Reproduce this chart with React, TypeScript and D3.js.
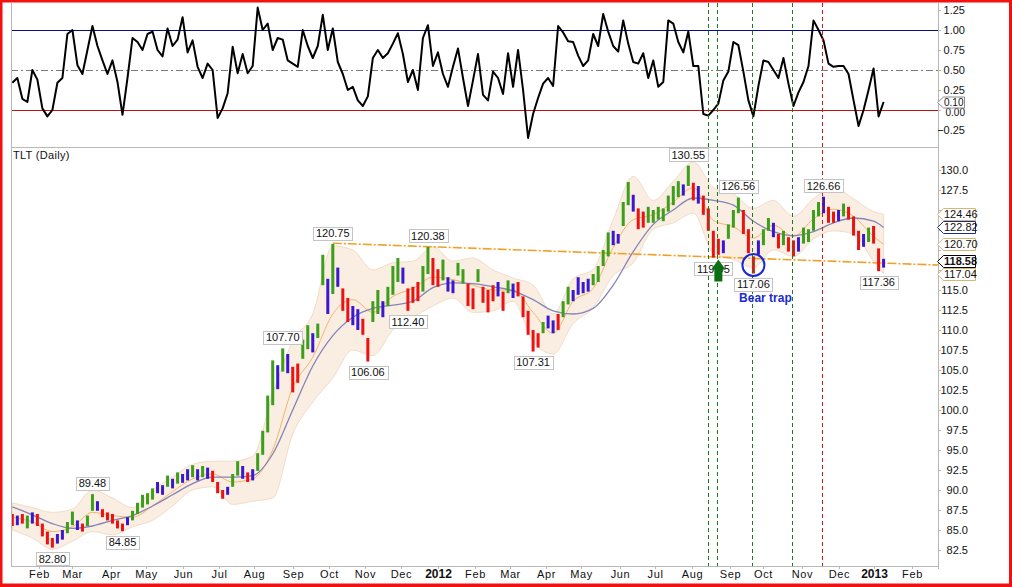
import React, { useEffect, useRef } from 'react';
import * as d3 from 'd3';

// TLT daily bars, read every 3rd session starting 10 Jan 2011
const barHigh = [
  87.0, 86.8, 87.0, 86.8, 87.2, 87.0, 85.8, 84.8, 84.0, 84.5,
  85.0, 86.0, 87.3, 86.2, 85.8, 86.8, 89.48, 88.6, 87.6, 87.2,
  87.0, 86.2, 85.8, 86.6, 87.4, 88.4, 89.4, 89.6, 90.2, 91.0,
  90.6, 91.8, 91.4, 92.2, 92.0, 92.6, 93.1, 92.6, 93.0, 92.8,
  92.4, 91.0, 90.0, 90.4, 92.0, 93.6, 93.0, 92.2, 92.6, 94.6,
  97.4, 101.8, 106.2, 105.6, 107.7, 107.0, 105.4, 105.8, 108.8, 110.6,
  109.6, 110.8, 119.4, 116.4, 120.75, 117.8, 115.2, 114.0, 113.0, 112.6,
  111.4, 109.0, 113.6, 115.0, 113.6, 115.4, 118.0, 119.0, 117.8, 115.2,
  115.4, 116.0, 118.0, 120.38, 119.0, 117.6, 118.8, 116.6, 116.2, 118.4,
  117.6, 115.8, 115.2, 117.6, 115.4, 115.0, 115.6, 116.0, 114.8, 116.2,
  115.8, 116.0, 114.2, 112.4, 110.0, 109.6, 111.0, 111.8, 111.2, 112.0,
  113.6, 115.4, 115.0, 116.6, 116.0, 116.4, 117.0, 118.0, 120.0, 122.2,
  122.4, 122.0, 126.0, 128.5, 126.9, 125.2, 124.8, 125.4, 125.0, 125.4,
  125.2, 126.8, 128.0, 128.6, 128.2, 130.55, 128.4, 128.0, 126.8, 125.2,
  122.4, 121.4, 121.2, 123.2, 125.0, 126.56, 125.0, 122.6, 119.2, 121.2,
  122.6, 124.0, 123.4, 122.0, 122.4, 121.6, 121.2, 121.6, 122.8, 122.6,
  125.0, 126.0, 126.66, 125.4, 124.8, 125.0, 125.8, 125.4, 124.2, 122.4,
  122.0, 122.8, 123.0, 120.2, 118.9,
];
const barLow = [
  85.5, 85.6, 85.8, 85.2, 85.8, 85.5, 84.2, 83.2, 82.8, 83.3,
  83.8, 84.6, 85.6, 85.0, 84.8, 85.5, 87.4, 87.4, 86.6, 86.2,
  85.8, 85.2, 84.85, 85.6, 86.2, 87.0, 87.8, 88.2, 88.8, 89.6,
  89.4, 90.4, 90.2, 90.8, 90.9, 91.2, 91.6, 91.2, 91.6, 91.4,
  91.0, 89.6, 88.9, 89.4, 90.4, 91.8, 91.4, 91.0, 91.2, 92.4,
  94.4, 97.2, 100.6, 102.6, 104.8, 104.6, 102.2, 103.4, 106.4, 107.6,
  107.2, 109.0, 115.6, 112.0, 114.5, 115.4, 112.4, 111.0, 110.6, 110.0,
  109.4, 106.06, 111.0, 112.0, 111.6, 113.0, 114.4, 116.0, 115.8, 112.4,
  113.4, 113.6, 114.8, 117.0, 115.6, 115.4, 116.2, 114.8, 114.6, 116.8,
  115.8, 113.0, 112.6, 116.0, 113.4, 112.2, 113.6, 114.2, 112.4, 114.6,
  114.0, 114.2, 111.6, 109.4, 107.31, 107.8, 109.6, 110.2, 109.6, 110.0,
  111.6, 113.2, 113.6, 114.4, 114.6, 114.8, 115.6, 116.0, 118.0, 119.2,
  120.6, 120.8, 123.0, 125.6, 124.8, 122.6, 122.8, 123.4, 123.4, 123.8,
  123.6, 124.8, 125.6, 126.6, 126.8, 128.0, 126.2, 125.8, 124.4, 122.4,
  119.05, 119.4, 119.6, 121.4, 122.8, 124.6, 122.0, 119.6, 117.06, 119.4,
  120.6, 122.4, 121.6, 120.2, 120.6, 119.8, 119.2, 119.8, 120.8, 121.0,
  122.4, 124.2, 124.6, 123.4, 123.4, 123.6, 124.2, 123.8, 121.8, 120.0,
  120.4, 121.0, 120.8, 117.36, 117.8,
];
// elder impulse colour per bar: g = green, r = red, b = blue
const barImpulse = [
  'r', 'b', 'r', 'g', 'b', 'r', 'r', 'r', 'r', 'b',
  'b', 'g', 'g', 'b', 'r', 'g', 'g', 'b', 'r', 'r',
  'r', 'r', 'r', 'b', 'g', 'g', 'g', 'g', 'g', 'b',
  'b', 'g', 'b', 'g', 'b', 'b', 'g', 'b', 'g', 'b',
  'r', 'r', 'r', 'b', 'g', 'g', 'b', 'r', 'b', 'g',
  'g', 'g', 'g', 'b', 'g', 'b', 'r', 'r', 'g', 'g',
  'b', 'g', 'g', 'b', 'g', 'b', 'r', 'r', 'b', 'b',
  'r', 'r', 'g', 'g', 'b', 'g', 'g', 'g', 'b', 'r',
  'r', 'r', 'g', 'g', 'r', 'r', 'g', 'b', 'b', 'g',
  'g', 'r', 'r', 'g', 'r', 'r', 'r', 'b', 'r', 'g',
  'b', 'r', 'r', 'r', 'r', 'r', 'g', 'b', 'b', 'r',
  'g', 'g', 'b', 'b', 'b', 'b', 'g', 'g', 'g', 'g',
  'b', 'b', 'g', 'g', 'b', 'r', 'r', 'g', 'g', 'g',
  'g', 'g', 'g', 'g', 'b', 'g', 'r', 'b', 'r', 'r',
  'r', 'r', 'b', 'g', 'g', 'g', 'r', 'r', 'r', 'b',
  'g', 'g', 'b', 'r', 'g', 'r', 'r', 'b', 'g', 'g',
  'g', 'g', 'b', 'r', 'r', 'b', 'g', 'r', 'r', 'r',
  'b', 'g', 'r', 'r', 'b',
];
// upper panel oscillator, same sessions as the bars
const oscValues = [
  0.34, 0.40, 0.14, 0.10, 0.50, 0.38, 0.02, -0.08, 0.00, 0.34,
  0.40, 0.95, 1.00, 0.56, 0.45, 0.75, 1.05, 0.80, 0.62, 0.45,
  0.62, 0.35, -0.06, 0.40, 0.90, 0.85, 0.75, 0.95, 0.98, 0.75,
  0.67, 1.02, 0.80, 0.88, 1.16, 0.72, 0.87, 0.54, 0.40, 0.58,
  0.50, -0.10, 0.02, 0.21, 0.79, 0.46, 0.70, 0.46, 0.55, 1.28,
  1.00, 1.08, 0.75, 0.90, 0.88, 0.62, 0.58, 0.54, 1.00, 0.80,
  0.65, 0.80, 1.19, 0.75, 1.02, 0.60, 0.45, 0.25, 0.29, 0.12,
  0.05, 0.17, 0.65, 0.75, 0.65, 0.71, 0.83, 0.96, 0.70, 0.35,
  0.50, 0.25, 0.90, 1.06, 0.55, 0.72, 0.45, 0.29, 0.54, 0.77,
  0.40, 0.05, 0.37, 0.70, 0.19, 0.12, 0.48, 0.40, 0.20, 0.71,
  0.29, 0.75, 0.25, -0.35, -0.05, 0.15, 0.33, 0.40, 0.30, 1.05,
  0.97, 0.86, 0.85, 0.68, 0.55, 0.62, 0.95, 0.80, 1.20, 0.98,
  0.80, 0.73, 1.12, 0.83, 0.60, 0.58, 0.71, 0.40, 0.62, 0.29,
  0.35, 1.12, 1.08, 0.85, 0.72, 0.98, 0.55, 0.55, -0.05, -0.07,
  0.00, 0.08, 0.37, 0.48, 0.85, 0.81, 0.48, 0.12, -0.08, 0.30,
  0.62, 0.60, 0.50, 0.40, 0.65, 0.33, 0.05, 0.22, 0.35, 0.55,
  1.12, 1.00, 0.87, 0.58, 0.54, 0.55, 0.55, 0.45, 0.12, -0.20,
  0.00, 0.25, 0.52, -0.08, 0.10,
];
// bollinger band and moving averages, read every 4th bar
const bandUpper = [
  88.4, 87.8, 87.2, 87.6, 90.0, 89.0, 87.8, 90.0, 91.6, 93.2,
  93.6, 93.6, 94.2, 102.0, 108.6, 112.0, 120.5, 120.0, 117.5, 118.4,
  118.6, 120.4, 118.6, 119.0, 117.5, 116.5, 115.6, 112.0, 116.4, 117.6,
  123.8, 129.2, 126.2, 128.6, 131.0, 127.8, 127.0, 125.2, 126.2, 124.2,
  126.4, 127.8, 126.4, 124.8, 124.46,
];
const bandLower = [
  85.0, 84.0, 82.6, 83.6, 84.8, 84.4, 85.4, 86.2, 88.0, 90.0,
  90.4, 88.2, 88.6, 89.0, 97.0, 101.0, 104.0, 107.5, 106.8, 110.0,
  111.6, 113.0, 114.0, 112.2, 112.4, 113.6, 108.6, 107.0, 110.8, 112.8,
  116.8, 118.4, 122.6, 123.4, 124.6, 119.6, 118.8, 117.8, 120.0, 119.2,
  121.4, 122.4, 122.0, 118.6, 117.04,
];
const ma20 = [
  86.6, 86.0, 84.8, 85.4, 87.2, 86.8, 86.6, 88.0, 89.8, 91.4,
  92.0, 91.0, 91.4, 95.0, 102.8, 106.6, 112.0, 113.8, 112.2, 114.2,
  115.2, 116.6, 116.3, 115.6, 115.0, 115.0, 112.2, 109.6, 113.6, 115.2,
  120.3, 123.8, 124.4, 126.0, 127.8, 123.7, 122.9, 121.5, 123.1, 121.7,
  123.9, 125.1, 124.2, 121.7, 120.70,
];
const ma50 = [
  87.9, 86.9, 85.8, 85.2, 85.5, 86.2, 86.8, 88.0, 89.4, 90.8,
  91.6, 91.6, 91.8, 94.5, 100.0, 105.5, 109.3, 111.6, 112.7, 113.1,
  113.6, 115.3, 115.9, 115.8, 115.4, 114.9, 113.8, 112.4, 112.0, 112.7,
  115.6, 119.8, 123.2, 125.0, 126.5, 126.2, 125.6, 123.6, 122.3, 121.8,
  122.3, 123.4, 124.0, 123.6, 122.82,
];

const monthLabels = [
  'Feb', 'Mar', 'Apr', 'May', 'Jun', 'Jul', 'Aug', 'Sep', 'Oct', 'Nov', 'Dec',
  '2012', 'Feb', 'Mar', 'Apr', 'May', 'Jun', 'Jul', 'Aug', 'Sep', 'Oct', 'Nov', 'Dec',
  '2013', 'Feb',
];
const oscTicks = [-0.25, 0, 0.25, 0.5, 0.75, 1.0, 1.25];
const priceTicks = d3.range(82.5, 130.01, 2.5);

// swing highs / lows annotated on the chart: [bar, value, side]
const swingLabels: [number, number, string][] = [
  [8, 82.8, 'below'], [16, 89.48, 'above'], [22, 84.85, 'below'],
  [54, 107.7, 'above'], [64, 120.75, 'above'], [71, 106.06, 'below'],
  [79, 112.4, 'below'], [83, 120.38, 'above'], [104, 107.31, 'below'],
  [135, 130.55, 'above'], [140, 119.05, 'below'], [145, 126.56, 'above'],
  [148, 117.06, 'below'], [162, 126.66, 'above'], [173, 117.36, 'below'],
];

const trendPoints: [string, number][] = [['2011-10-05', 120.85], ['2013-01-02', 118.4]];
const greenMarks = ['2012-08-15', '2012-08-22', '2012-09-20', '2012-10-24'];
const redMarks = ['2012-11-19'];

const tagValues = [124.46, 122.82, 120.7, 118.58, 117.04];
const tagKinds = ['band', 'ma', 'band', 'last', 'band'];
const oscLast = 0.1;

const FIRST_BAR = 5; // weekday offset of first bar from 3 Jan 2011
const BAR_STEP = 3;
const BAND_STEP = 4;

const impulseColor = { g: '#3c9e1a', r: '#ec1212', b: '#3a18d2' };
const tagColor = { band: '#d8b478', ma: '#1c2a8c', last: '#000000' };
const FONT = '"Liberation Sans", Arial, sans-serif';

const BASE = new Date(2011, 0, 3);
const weekdayIndex = (d: Date) => {
  const days = d3.timeDay.count(BASE, d);
  return Math.floor(days / 7) * 5 + Math.min(days % 7, 5);
};
const parse = d3.timeParse('%Y-%m-%d');

const TltChart = () => {
  const ref = useRef(null);

  useEffect(() => {
    draw();
  }, []);

  const draw = () => {
    const W = 1012;
    const H = 587;
    const PL = 11;
    const PR = 938;
    const TOP0 = 3;
    const TOP1 = 147;
    const BOT = 566;

    const svg = d3.select(ref.current);
    svg.selectAll('*').remove();
    svg.attr('width', W).attr('height', H).style('font-family', FONT);

    const x = d3.scaleLinear().domain([4.2, 559.6]).range([PL, PR]);
    const yOsc = d3.scaleLinear().domain([-0.4625, 1.3375]).range([TOP1, TOP0]);
    const y = d3.scaleLinear().domain([80.5, 132.875]).range([BOT, TOP1]);

    const barW = (i: number) => FIRST_BAR + BAR_STEP * i;
    const bandW = (j: number) => barW(Math.min(j * BAND_STEP, barHigh.length - 1));

    svg.append('rect').attr('width', W).attr('height', H).attr('fill', '#fff');

    const defs = svg.append('defs');
    defs.append('clipPath').attr('id', 'clip-top')
      .append('rect').attr('x', PL).attr('y', TOP0).attr('width', PR - PL).attr('height', TOP1 - TOP0);
    defs.append('clipPath').attr('id', 'clip-main')
      .append('rect').attr('x', PL).attr('y', TOP1).attr('width', PR - PL).attr('height', BOT - TOP1);

    // ---- upper panel
    const top = svg.append('g').attr('clip-path', 'url(#clip-top)');
    const refLine = (v: number, color: string, dash?: string) => {
      top.append('line')
        .attr('x1', PL).attr('x2', PR)
        .attr('y1', yOsc(v) + 0.5).attr('y2', yOsc(v) + 0.5)
        .attr('stroke', color).attr('stroke-width', 1)
        .attr('stroke-dasharray', dash || null);
    };
    refLine(1.0, '#0a0a80');
    refLine(0.0, '#c41010');
    refLine(0.5, '#7a7a7a', '7,3,2,3');

    const oscLine = d3.line<number>()
      .x((d, i) => x(barW(i)))
      .y(d => yOsc(d));
    top.append('path')
      .datum(oscValues)
      .attr('d', oscLine)
      .attr('fill', 'none')
      .attr('stroke', '#000')
      .attr('stroke-width', 2)
      .attr('stroke-linejoin', 'round');

    // ---- price panel
    const main = svg.append('g').attr('clip-path', 'url(#clip-main)');
    const idx = d3.range(bandUpper.length);

    const band = d3.area<number>()
      .x(j => x(bandW(j)))
      .y0(j => y(bandLower[j]))
      .y1(j => y(bandUpper[j]))
      .curve(d3.curveMonotoneX);
    main.append('path').datum(idx).attr('d', band)
      .attr('fill', '#faeee2').attr('stroke', '#f1dcc6').attr('stroke-width', 1);

    const avgLine = (arr: number[]) => d3.line<number>()
      .x(j => x(bandW(j)))
      .y(j => y(arr[j]))
      .curve(d3.curveMonotoneX);
    main.append('path').datum(idx).attr('d', avgLine(ma20))
      .attr('fill', 'none').attr('stroke', '#f3b66a').attr('stroke-width', 1);
    main.append('path').datum(idx).attr('d', avgLine(ma50))
      .attr('fill', 'none').attr('stroke', '#8484b6').attr('stroke-width', 1.3);

    // trendline through two anchors, extended to the right edge
    const [t0, t1] = trendPoints.map(([d, v]) => [weekdayIndex(parse(d)), v]);
    const slope = (t1[1] - t0[1]) / (t1[0] - t0[0]);
    const wEnd = x.domain()[1];
    main.append('line')
      .attr('x1', x(t0[0])).attr('y1', y(t0[1]))
      .attr('x2', x(wEnd)).attr('y2', y(t0[1] + slope * (wEnd - t0[0])))
      .attr('stroke', '#f2a024').attr('stroke-width', 1.6)
      .attr('stroke-dasharray', '9,2,2,2');

    main.selectAll('.bar')
      .data(barHigh)
      .join('rect')
      .attr('class', 'bar')
      .attr('x', (d, i) => x(barW(i)) - 1.5)
      .attr('y', d => y(d))
      .attr('width', 3)
      .attr('height', (d, i) => Math.max(1.5, y(barLow[i]) - y(d)))
      .attr('fill', (d, i) => impulseColor[barImpulse[i]]);

    // ---- vertical event markers
    const marks = svg.append('g');
    const addMarks = (dates: string[], color: string) => {
      marks.selectAll(null)
        .data(dates)
        .join('line')
        .attr('x1', d => Math.round(x(weekdayIndex(parse(d)))) + 0.5)
        .attr('x2', d => Math.round(x(weekdayIndex(parse(d)))) + 0.5)
        .attr('y1', TOP0).attr('y2', BOT)
        .attr('stroke', color).attr('stroke-width', 1)
        .attr('stroke-dasharray', '4,3');
    };
    addMarks(greenMarks, '#1e7a1e');
    addMarks(redMarks, '#cc1c1c');

    // ---- frames
    const frame = svg.append('g').attr('stroke', '#b8b8b8').attr('stroke-width', 1);
    frame.append('line').attr('x1', PL + 0.5).attr('x2', PL + 0.5).attr('y1', TOP0).attr('y2', BOT);
    frame.append('line').attr('x1', PR + 0.5).attr('x2', PR + 0.5).attr('y1', TOP0).attr('y2', BOT + 3);
    frame.append('line').attr('x1', PL).attr('x2', PR).attr('y1', TOP1 + 0.5).attr('y2', TOP1 + 0.5);
    frame.append('line').attr('x1', PL).attr('x2', PR + 1).attr('y1', BOT + 0.5).attr('y2', BOT + 0.5);

    // ---- right axes (labels hidden behind a value tag are not drawn)
    const axis = svg.append('g').attr('font-size', 11).attr('fill', '#111');
    const oscTagY = yOsc(oscLast);
    oscTicks.forEach(v => {
      axis.append('line').attr('x1', PR).attr('x2', PR + 3)
        .attr('y1', yOsc(v) + 0.5).attr('y2', yOsc(v) + 0.5).attr('stroke', '#b8b8b8');
      const near = Math.abs(yOsc(v) - oscTagY) < 12;
      axis.append('text').attr('x', 965).attr('y', near ? yOsc(v) + 2 : yOsc(v)).attr('dy', '0.35em')
        .attr('font-size', near ? 10 : 11)
        .attr('text-anchor', 'end').text(d3.format('.2f')(v));
    });
    const tagYs = tagValues.map(v => y(v));
    priceTicks.forEach(v => {
      axis.append('line').attr('x1', PR).attr('x2', PR + 3)
        .attr('y1', y(v) + 0.5).attr('y2', y(v) + 0.5).attr('stroke', '#b8b8b8');
      if (tagYs.some(t => Math.abs(t - y(v)) < 11)) return;
      axis.append('text').attr('x', 968).attr('y', y(v)).attr('dy', '0.35em')
        .attr('text-anchor', 'end').text(d3.format('.1f')(v));
    });

    // ---- month axis
    const months = d3.timeMonth.range(new Date(2011, 1, 1), new Date(2013, 1, 2));
    months.forEach((m, k) => {
      const mx = Math.round(x(weekdayIndex(m))) + 0.5;
      axis.append('line').attr('x1', mx).attr('x2', mx).attr('y1', BOT).attr('y2', BOT + 3)
        .attr('stroke', '#b8b8b8');
      const isYear = /^\d{4}$/.test(monthLabels[k]);
      axis.append('text').attr('x', mx).attr('y', 578)
        .attr('text-anchor', 'middle')
        .attr('font-weight', isYear ? 'bold' : null)
        .attr('font-size', isYear ? 12 : 11)
        .attr('letter-spacing', isYear ? null : '0.6px')
        .text(monthLabels[k]);
    });

    // ---- swing labels
    const notes = svg.append('g').attr('font-size', 11);
    swingLabels.forEach(([i, v, side]) => {
      const cx = x(barW(i));
      const cy = side === 'above' ? y(v) - 11 : y(v) + 11;
      const g = notes.append('g');
      const box = g.append('rect').attr('fill', '#fff').attr('stroke', '#c4c4c4').attr('stroke-width', 1);
      const txt = g.append('text').attr('x', cx).attr('y', cy).attr('dy', '0.36em')
        .attr('text-anchor', 'middle').attr('fill', '#111').text(v.toFixed(2));
      const tw = (txt.node() as SVGTextElement).getComputedTextLength();
      box.attr('x', Math.round(cx - tw / 2 - 2.5) + 0.5).attr('y', Math.round(cy - 6.5) + 0.5)
        .attr('width', Math.round(tw + 5)).attr('height', 13);
    });

    // green arrow under the August low
    const ax = x(barW(141));
    const ay = y(119.05) + 2;
    notes.append('path')
      .attr('d', `M${ax},${ay} L${ax + 7},${ay + 10} L${ax + 4},${ay + 10} L${ax + 4},${ay + 22} L${ax - 4},${ay + 22} L${ax - 4},${ay + 10} L${ax - 7},${ay + 10} Z`)
      .attr('fill', '#0c6e12');

    // bear trap circle
    const bx = x(barW(148));
    const by = y((barHigh[148] + barLow[148]) / 2);
    notes.append('circle').attr('cx', bx).attr('cy', by).attr('r', 11)
      .attr('fill', 'none').attr('stroke', '#1a2ad2').attr('stroke-width', 2);
    notes.append('text').attr('x', bx + 12).attr('y', by + 37)
      .attr('text-anchor', 'middle').attr('font-weight', 'bold').attr('font-size', 12)
      .attr('fill', '#1a2ad2').text('Bear trap');

    // ---- right-hand value tags
    const tags = svg.append('g').attr('font-size', 11);
    const tagShape = (ty: number, right: number, hh: number) =>
      `M${PR - 0.5},${ty} L${PR + 5.5},${ty - hh} L${right},${ty - hh} L${right},${ty + hh} L${PR + 5.5},${ty + hh} Z`;
    tagValues.forEach((v, k) => {
      const ty = Math.round(y(v)) + 0.5;
      const kind = tagKinds[k];
      tags.append('path').attr('d', tagShape(ty, 975.5, 6))
        .attr('fill', '#fff').attr('stroke', tagColor[kind]).attr('stroke-width', 1);
      tags.append('text').attr('x', 944).attr('y', ty).attr('dy', '0.36em')
        .attr('font-weight', kind === 'last' ? 'bold' : null)
        .attr('fill', '#111').text(v.toFixed(2));
    });
    const oy = Math.round(oscTagY) + 0.5;
    tags.append('path').attr('d', tagShape(oy, 964.5, 5.5))
      .attr('fill', '#fff').attr('stroke', '#8c8c8c').attr('stroke-width', 1);
    tags.append('text').attr('x', 944).attr('y', oy).attr('dy', '0.36em')
      .attr('font-size', 10).attr('fill', '#111').text(oscLast.toFixed(2));

    svg.append('text').attr('x', 13).attr('y', 159).attr('font-size', 11)
      .attr('fill', '#111').attr('letter-spacing', '0.3px').text('TLT (Daily)');

    // ---- red outer border
    const red = svg.append('g').attr('fill', '#f21010');
    red.append('rect').attr('x', 0).attr('y', 0).attr('width', W).attr('height', 2.5);
    red.append('rect').attr('x', 0).attr('y', 0).attr('width', 2.5).attr('height', H);
    red.append('rect').attr('x', 1009).attr('y', 0).attr('width', 3).attr('height', H);
    red.append('rect').attr('x', 0).attr('y', 583.5).attr('width', W).attr('height', 3.5);
  };

  return <svg ref={ref} style={{ display: 'block' }}></svg>;
};

export default function App() {
  return (
    <div>
      <style>{'body { margin: 0; }'}</style>
      <TltChart />
    </div>
  );
}
